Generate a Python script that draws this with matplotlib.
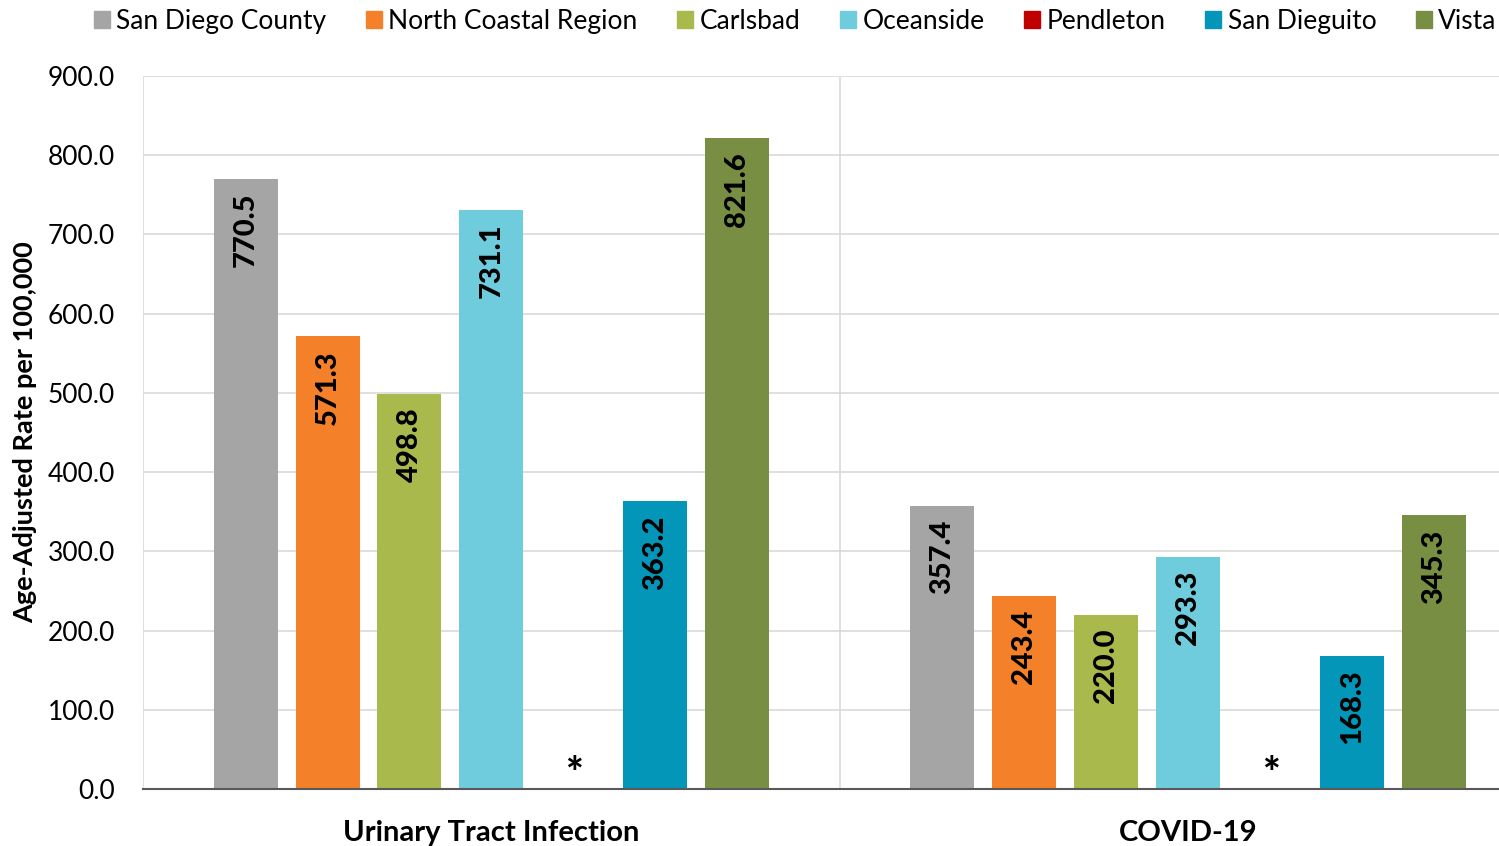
import numpy as np
import matplotlib.pyplot as plt
from matplotlib.patches import Patch

plt.rcParams['font.family'] = ['Lato', 'DejaVu Sans']

# Age-adjusted rates by region
categories = ['Urinary Tract Infection', 'COVID-19']
regions = ['San Diego County', 'North Coastal Region', 'Carlsbad', 'Oceanside',
           'Pendleton', 'San Dieguito', 'Vista']
san_diego_county = [770.5, 357.4]
north_coastal = [571.3, 243.4]
carlsbad = [498.8, 220.0]
oceanside = [731.1, 293.3]
pendleton = [np.nan, np.nan]   # suppressed -> "*"
san_dieguito = [363.2, 168.3]
vista = [821.6, 345.3]
yticks = [0, 100, 200, 300, 400, 500, 600, 700, 800, 900]

colors = ['#A5A5A5', '#F4802A', '#A9B94B', '#6FCCDD', '#C00000', '#0396B8', '#788F43']
series = [san_diego_county, north_coastal, carlsbad, oceanside, pendleton, san_dieguito, vista]

fig = plt.figure(figsize=(14.99, 8.46), dpi=100)
ax = fig.add_axes([143/1499, 57/846, 1394/1499, 713/846])

x = np.arange(len(categories))
step = 82/697
width = 64/697
for i, (vals, col) in enumerate(zip(series, colors)):
    xs = x + (i - 3) * step
    for xi, v in zip(xs, vals):
        if np.isnan(v):
            ax.text(xi, -6, '*', ha='center', va='bottom', fontsize=30,
                    fontweight='black', color='black', clip_on=False)
            continue
        ax.bar(xi, v, width=width, color=col, zorder=3)
        ax.annotate(f'{v:.1f}', (xi, v), xytext=(0, -10), textcoords='offset points',
                    rotation=90, ha='center', va='top', fontsize=21,
                    fontweight='black', color='black', zorder=4)

ax.set_xlim(-0.5, 1.5)
ax.set_ylim(0, 900)
ax.set_yticks(yticks)
ax.set_yticklabels([f'{t:.1f}' for t in yticks], fontsize=19)
ax.set_xticks(x)
ax.set_xticklabels(categories, fontsize=21, fontweight='bold')
ax.tick_params(axis='y', length=0, pad=20)
ax.tick_params(axis='x', length=0, pad=22)

ax.grid(axis='y', color='#D9D9D9', linewidth=1.2, zorder=0)
for b in [-0.5, 0.5, 1.5]:
    ax.axvline(b, color='#D9D9D9', linewidth=1.2, zorder=0)
for s in ['top', 'right', 'left']:
    ax.spines[s].set_visible(False)
ax.spines['bottom'].set_color('#595959')
ax.spines['bottom'].set_linewidth(1.5)
ax.spines['bottom'].set_zorder(5)

ax.set_ylabel('Age-Adjusted Rate per 100,000', fontsize=19.5, fontweight='bold', labelpad=8)

handles = [Patch(color=c, label=r) for c, r in zip(colors, regions)]
fig.legend(handles=handles, loc='upper left', bbox_to_anchor=(78/1499, 1.008), ncol=7,
           frameon=False, fontsize=19, handlelength=0.6, handleheight=0.6,
           handletextpad=0.25, columnspacing=1.5, borderaxespad=0.2)

fig.savefig('out.png', dpi=100)
